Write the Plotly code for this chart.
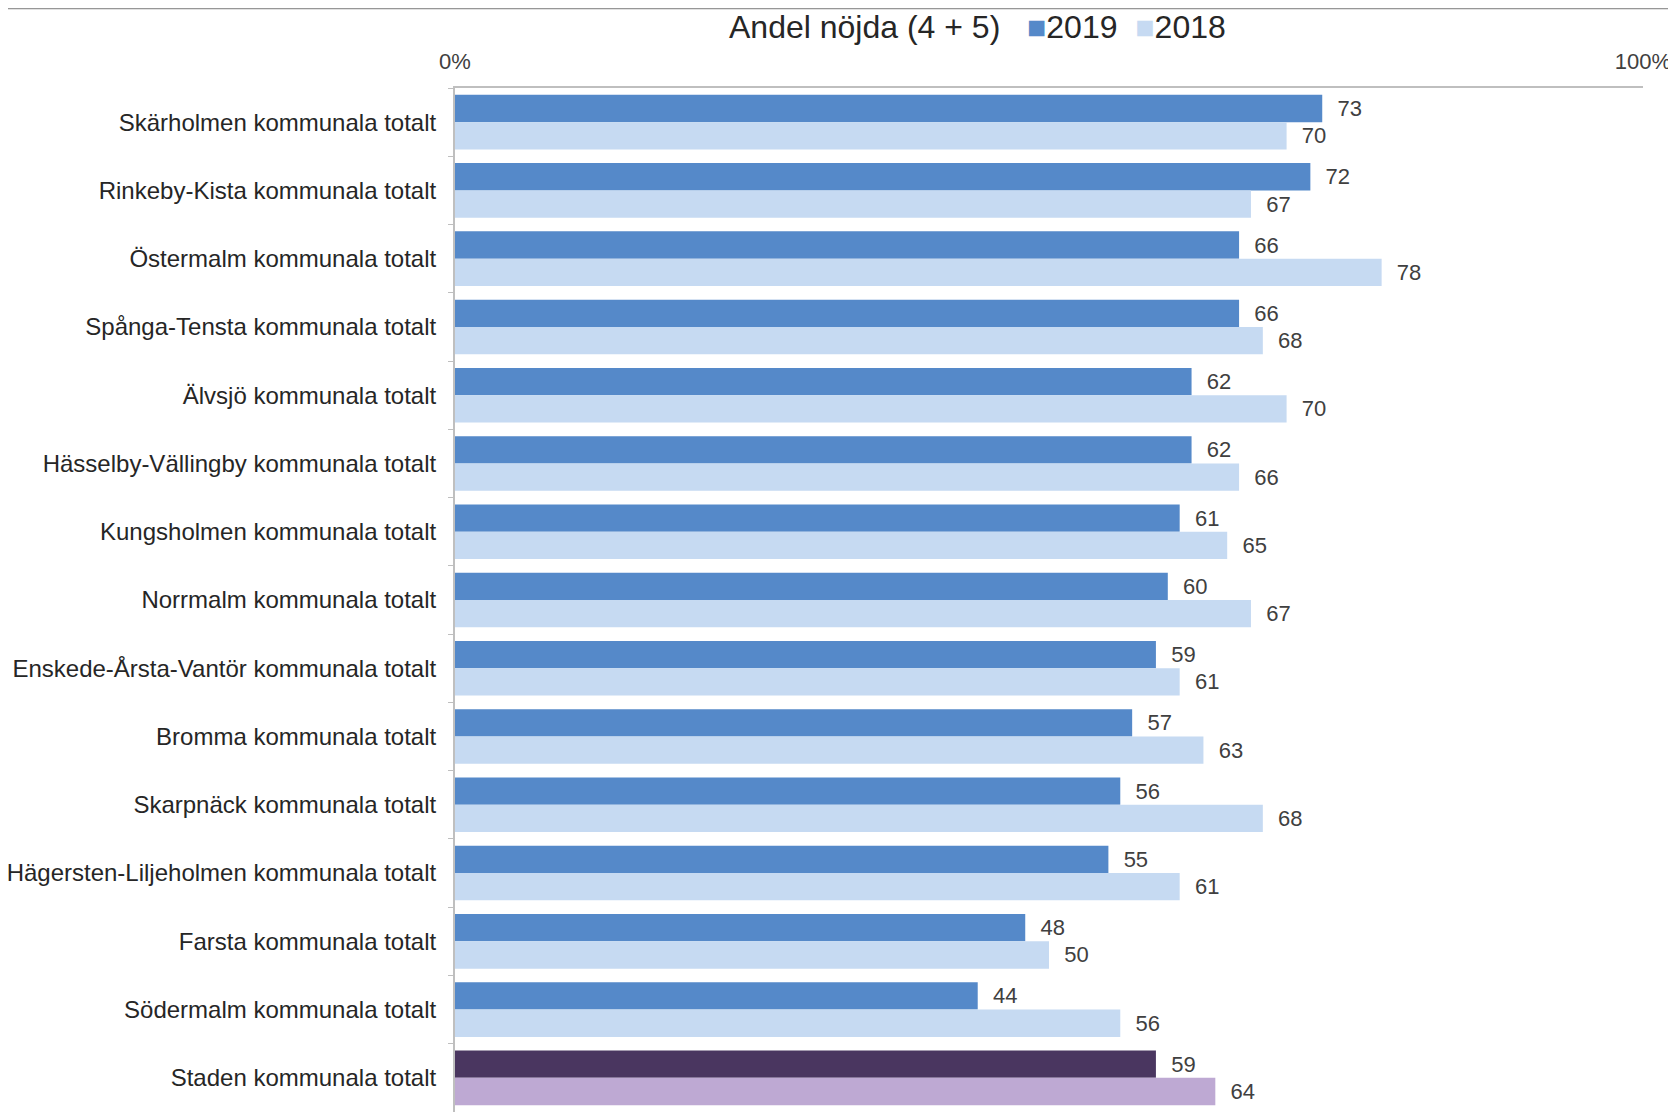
import plotly.graph_objects as go

categories = [
    'Skärholmen kommunala totalt',
    'Rinkeby-Kista kommunala totalt',
    'Östermalm kommunala totalt',
    'Spånga-Tensta kommunala totalt',
    'Älvsjö kommunala totalt',
    'Hässelby-Vällingby kommunala totalt',
    'Kungsholmen kommunala totalt',
    'Norrmalm kommunala totalt',
    'Enskede-Årsta-Vantör kommunala totalt',
    'Bromma kommunala totalt',
    'Skarpnäck kommunala totalt',
    'Hägersten-Liljeholmen kommunala totalt',
    'Farsta kommunala totalt',
    'Södermalm kommunala totalt',
    'Staden kommunala totalt',
]
values_2019 = [73, 72, 66, 66, 62, 62, 61, 60, 59, 57, 56, 55, 48, 44, 59]
values_2018 = [70, 67, 78, 68, 70, 66, 65, 67, 61, 63, 68, 61, 50, 56, 64]
x_ticks = [0, 100]
x_tick_labels = ['0%', '100%']

blue_2019 = '#5589c9'
blue_2018 = '#c6daf2'
purple_2019 = '#4a3660'
purple_2018 = '#bea9d3'

font = 'Liberation Sans, Arial, sans-serif'
text_color = '#262626'

colors_2019 = [purple_2019 if c.startswith('Staden') else blue_2019 for c in categories]
colors_2018 = [purple_2018 if c.startswith('Staden') else blue_2018 for c in categories]

fig = go.Figure()
fig.add_trace(go.Bar(y=categories, x=values_2019, orientation='h', name='2019',
                     marker=dict(color=colors_2019, line=dict(width=0)),
                     text=values_2019, texttemplate='\u00a0\u00a0%{x}', textposition='outside',
                     textfont=dict(family=font, size=22, color='#404040'), cliponaxis=False))
fig.add_trace(go.Bar(y=categories, x=values_2018, orientation='h', name='2018',
                     marker=dict(color=colors_2018, line=dict(width=0)),
                     text=values_2018, texttemplate='\u00a0\u00a0%{x}', textposition='outside',
                     textfont=dict(family=font, size=22, color='#404040'), cliponaxis=False))

# title with inline legend
title = ('Andel nöjda (4 + 5)\u00a0\u00a0 '
         f'<span style="color:{blue_2019}">■</span>2019\u00a0 '
         f'<span style="color:{blue_2018}">■</span>2018')
fig.add_annotation(text=title, xref='paper', yref='paper', x=0.44, y=1.060,
                   xanchor='center', yanchor='middle', showarrow=False,
                   font=dict(family=font, size=32, color=text_color))

# grey rule at the very top
fig.add_shape(type='line', xref='paper', yref='paper', x0=-0.4, x1=1.05, y0=1.0785, y1=1.0785,
              line=dict(color='#c4c4c4', width=4))
fig.add_shape(type='line', xref='paper', yref='paper', x0=-0.4, x1=1.05, y0=1.0785, y1=1.0785,
              line=dict(color='#6a6a6a', width=2))

fig.update_layout(
    width=1668, height=1104,
    margin=dict(l=447, r=33, t=80, b=0),
    paper_bgcolor='white', plot_bgcolor='white',
    barmode='group', bargap=0.2, bargroupgap=0,
    showlegend=False,
    xaxis=dict(side='top', range=[0, 100], tickvals=x_ticks, ticktext=x_tick_labels,
               showline=True, linecolor='#bfbfbf', linewidth=2, showgrid=False, zeroline=False,
               ticks='', ticklabelstandoff=8, ticklabeloverflow='allow',
               tickfont=dict(family=font, size=22, color='#404040')),
    yaxis=dict(type='category', range=[len(categories) - 0.5, -0.5],
               showline=True, linecolor='#bfbfbf', linewidth=2, showgrid=False, zeroline=False,
               ticks='outside', ticklen=5, tickcolor='#bfbfbf', tickson='boundaries',
               ticklabelstandoff=12,
               tickfont=dict(family=font, size=24, color=text_color)),
)

fig.write_html('out.html')
